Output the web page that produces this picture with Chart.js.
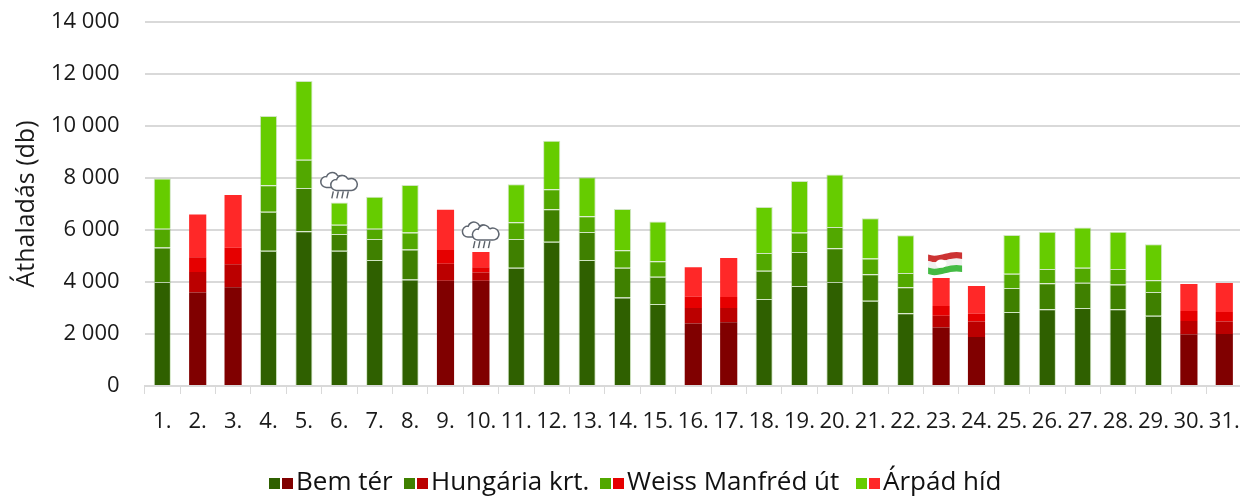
<!DOCTYPE html>
<html><head><meta charset="utf-8">
<style>html,body{margin:0;padding:0;background:#fff;overflow:hidden}#w{width:1240px;height:496px;position:relative;overflow:hidden}canvas{display:block}</style>
<script src="https://cdn.jsdelivr.net/npm/chart.js@4"></script>
</head><body><div id="w"><canvas id="c" width="1242" height="496"></canvas></div>
<script>
const categories = ["1.","2.","3.","4.","5.","6.","7.","8.","9.","10.","11.","12.","13.","14.","15.","16.","17.","18.","19.","20.","21.","22.","23.","24.","25.","26.","27.","28.","29.","30.","31."];
const bemTer   = [4000,3600,3800,5200,5950,5200,4850,4100,4050,4050,4550,5550,4850,3400,3150,2400,2450,3350,3850,4000,3280,2800,2250,1880,2850,2950,3000,2950,2700,1980,2000];
const hungaria = [1330,780,880,1500,1670,650,800,1150,650,320,1100,1250,1070,1150,1050,600,550,1080,1300,1300,1020,1000,450,600,920,1000,970,950,920,520,480];
const weiss    = [720,570,640,1020,1080,350,400,650,530,200,650,770,610,670,600,430,420,690,750,820,600,550,380,300,550,550,580,600,450,380,370];
const arpad    = [1930,1650,2030,2660,3030,860,1230,1830,1550,580,1460,1860,1500,1590,1530,1140,1500,1760,1980,2010,1550,1450,1070,1070,1490,1430,1550,1430,1380,1040,1110];
const seriesNames = ["Bem tér","Hungária krt.","Weiss Manfréd út","Árpád híd"];
const greens = ["#2f6000","#3f8000","#52a800","#66cc00"];
const reds   = ["#800000","#bb0000","#e60000","#ff2828"];
const weekendDays = ["2.","3.","9.","10.","16.","17.","23.","24.","30.","31."];
const rainDays = ["6.","10."];
const flagDays = ["23."];
const FONT = '"Open Sans"';
const isRed = ctx => weekendDays.includes(categories[ctx.dataIndex]);
const colorFor = i => ctx => isRed(ctx) ? reds[i] : greens[i];
const datasets = [bemTer,hungaria,weiss,arpad].map((d,i)=>({label:seriesNames[i],data:d,stack:"s",
  backgroundColor:colorFor(i),
  borderWidth:ctx=>isRed(ctx)?0:1,
  borderColor:"rgba(120,180,80,0.35)",
  barPercentage:0.485,categoryPercentage:1}));
const total = i => bemTer[i]+hungaria[i]+weiss[i]+arpad[i];

function cloud(c,x,y){
  c.save();c.translate(x,y);
  c.strokeStyle="#5f6670";c.lineWidth=1.5;c.fillStyle="#fff";
  const puff=(ox,oy)=>{c.beginPath();
    c.moveTo(ox-7,oy+8);c.arc(ox-8,oy+2.5,5.5,Math.PI*0.5,Math.PI*1.5);
    c.arc(ox-2,oy-1,6,Math.PI*1.1,Math.PI*1.85);
    c.arc(ox+7,oy+2,6,Math.PI*1.35,Math.PI*0.5);
    c.closePath();c.fill();c.stroke();};
  puff(-5,-23);puff(5,-20);
  c.strokeStyle="#5a6068";c.lineWidth=1.4;
  [-6,-1,4,9].forEach(d=>{c.beginPath();c.moveTo(d,-11);c.lineTo(d-1.5,-4);c.stroke();});
  c.restore();
}
function flag(c,x,y){
  c.save();c.translate(x+4,y);
  const w=34,h=6.5,top=-24.5;const cols=["#cc3333","#f0f0f0","#44bb44"];
  cols.forEach((col,k)=>{c.fillStyle=col;c.beginPath();
    const t=top+k*h;c.moveTo(-w/2,t+1);
    c.bezierCurveTo(-6,t+5,4,t-4,w/2,t-1);
    c.lineTo(w/2,t+h-1);
    c.bezierCurveTo(4,t+h-4,-6,t+h+5,-w/2,t+h+1);
    c.closePath();c.fill();});
  c.fillStyle="#fff";c.beginPath();c.ellipse(-4,top+10,5.5,4,0,0,7);c.fill();
  c.restore();
}
const extras={id:"extras",afterDatasetsDraw(ch){
  const c=ch.ctx,xs=ch.scales.x,ys=ch.scales.y;
  categories.forEach((n,i)=>{
    const x=xs.getPixelForValue(i),y=ys.getPixelForValue(total(i));
    if(rainDays.includes(n))cloud(c,x,y);
    if(flagDays.includes(n))flag(c,x,y);
  });
  const starts=[269,404,600,856];
  c.save();c.font='26px '+FONT;c.textBaseline="alphabetic";
  seriesNames.forEach((n,i)=>{
    const s=starts[i];
    c.fillStyle=greens[i];c.fillRect(s,478,11,11);
    c.fillStyle=reds[i];c.fillRect(s+13,478,11,11);
    c.fillStyle="#111";c.fillText(n,s+27,490);
  });
  c.restore();
}};
new Chart(document.getElementById("c"),{type:"bar",
 data:{labels:categories,datasets},
 plugins:[extras],
 options:{responsive:false,animation:false,
  layout:{padding:{top:22,right:0,bottom:0,left:0}},
  plugins:{legend:{display:false},tooltip:{enabled:false}},
  scales:{
   x:{stacked:true,
      afterFit(s){s.height=110;s.paddingLeft=0;s.paddingRight=0;},
      grid:{display:true,drawOnChartArea:false,drawTicks:true,tickLength:8,color:"#d9d9d9",offset:true},
      border:{color:"#d9d9d9",width:2},
      ticks:{color:"#1a1a1a",font:{family:FONT,size:22},maxRotation:0,minRotation:0,autoSkip:false,padding:15}},
   y:{stacked:true,min:0,max:14000,
      afterFit(s){s.width=144.6;s.paddingTop=0;s.paddingBottom=0;},
      grid:{color:"#d9d9d9",lineWidth:2,drawTicks:false},
      border:{display:false},
      title:{display:true,text:"Áthaladás (db)",color:"#1a1a1a",font:{family:FONT,size:25},padding:{top:12,bottom:0}},
      ticks:{stepSize:2000,color:"#1a1a1a",padding:25,font:{family:FONT,size:22},
        callback:v=>String(v).replace(/\B(?=(\d{3})+$)/g," ")}}
  }}});
</script></body></html>
